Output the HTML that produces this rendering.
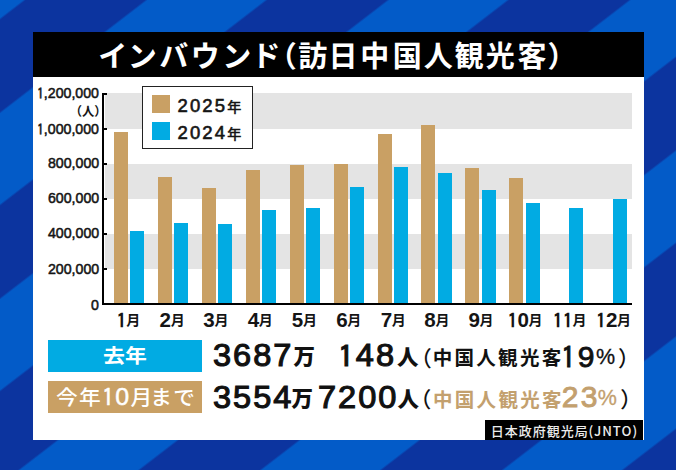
<!DOCTYPE html>
<html lang="ja"><head><meta charset="utf-8"><title>インバウンド（訪日中国人観光客）</title>
<style>
*{margin:0;padding:0;box-sizing:border-box}
html,body{width:676px;height:470px;overflow:hidden}
body{position:relative;background:#0c349f;
background-image:repeating-linear-gradient(142.43deg,#035bc8 0px,#035bc8 14.0px,#0c349f 16.0px,#0c349f 88.3px,#035bc8 90.3px,#035bc8 147.4px);
font-family:"Liberation Sans","Noto Sans CJK JP",sans-serif}
.a{position:absolute}
#panel{left:33px;top:32px;width:611px;height:408px;background:#fff}
#head{left:33px;top:32px;width:611px;height:45px;background:#000}
.band{position:absolute;left:105px;width:527px;background:#e4e4e4}
.b{position:absolute;width:14.0px}
.t{background:#c9a064}
.c{background:#01abe3}
#yaxis{left:102px;top:92.50px;width:2px;height:212.50px;background:#000}
#xaxis{left:102px;top:303.00px;width:530px;height:2px;background:#000}
.tick{position:absolute;left:104px;width:3px;height:2px;background:#000}
#legend{left:141.5px;top:85.5px;width:111px;height:63px;background:#fff;border:1.5px solid #222}
.sw{position:absolute;width:18px;height:18px}
.box{position:absolute;left:48px;width:154px}
#src{left:485px;top:420px;width:158px;height:20px;background:#000}
.s{position:absolute;line-height:40px;white-space:pre}
.md{margin-left:-3px}
.tn{font-family:"Liberation Sans",sans-serif;font-size:23.5px;-webkit-text-stroke:0.5px;letter-spacing:1.2px}
.one{font-family:IPAGothic,sans-serif;font-size:0.97em;vertical-align:-0.05em}
.mo{font-family:"Noto Sans CJK JP",sans-serif;font-size:14px;margin-left:-0.4px;position:relative;top:-1.6px}
.ne{font-family:"Noto Sans CJK JP",sans-serif;font-size:14px;letter-spacing:0;}
.k0{color:#fff;font-family:"Noto Sans CJK JP",sans-serif;font-size:29px;font-weight:700}
.k1{-webkit-text-stroke:0.55px #151515;color:#151515;font-family:"Liberation Sans",sans-serif;font-size:15.4px;font-weight:400;transform:scaleX(0.92);transform-origin:left}
.k2{color:#151515;font-family:"Noto Sans CJK JP",sans-serif;font-size:12.3px;font-weight:700}
.k3{color:#151515;font-family:"Liberation Sans","Noto Sans CJK JP",sans-serif;font-size:20.6px;font-weight:700}
.k4{-webkit-text-stroke:0.6px #151515;color:#151515;font-family:"Liberation Sans","Noto Sans CJK JP",sans-serif;font-size:18.5px;font-weight:400;letter-spacing:2.1px}
.k5{color:#fff;font-family:"Noto Sans CJK JP",sans-serif;font-size:19.5px;font-weight:700;letter-spacing:0.2px;transform:scaleX(1.12);transform-origin:left}
.k6{color:#fff;font-family:"Noto Sans CJK JP",sans-serif;font-size:20.5px;font-weight:500;letter-spacing:1.2px;transform:scaleX(1.06);transform-origin:left}
.k7{-webkit-text-stroke:1.1px #111;color:#111;font-family:"Liberation Sans",sans-serif;font-size:31px;font-weight:400;letter-spacing:1.9px;transform:scaleX(1.05);transform-origin:left}
.k8{color:#111;font-family:"Noto Sans CJK JP",sans-serif;font-size:21.5px;font-weight:900}
.k9{color:#111;font-family:"Noto Sans CJK JP",sans-serif;font-size:21.5px;font-weight:500}
.k10{color:#111;font-family:"Noto Sans CJK JP",sans-serif;font-size:19.5px;font-weight:700;letter-spacing:2.3px}
.k11{-webkit-text-stroke:0.9px;color:#111;font-family:"Liberation Sans",sans-serif;font-size:30px;font-weight:400;letter-spacing:2.4px}
.k12{-webkit-text-stroke:0.3px;color:#111;font-family:"Liberation Sans",sans-serif;font-size:21.5px;font-weight:400}
.k13{color:#c3a06e;font-family:"Noto Sans CJK JP",sans-serif;font-size:19.5px;font-weight:700;letter-spacing:2.3px}
.k14{-webkit-text-stroke:0.9px;color:#c3a06e;font-family:"Liberation Sans",sans-serif;font-size:30px;font-weight:400;letter-spacing:2.4px}
.k15{-webkit-text-stroke:0.3px;color:#c3a06e;font-family:"Liberation Sans",sans-serif;font-size:21.5px;font-weight:400}
.k16{color:#ececec;font-family:"Noto Sans CJK JP",sans-serif;font-size:13px;font-weight:500;letter-spacing:1px}
.k17{color:#ececec;font-family:"Noto Sans CJK JP",sans-serif;font-size:13.2px;font-weight:500;letter-spacing:1px}
</style></head><body>
<div class="a" id="panel"></div>
<div class="a" id="head"></div>
<div class="band" style="top:93.00px;height:35.58px"></div><div class="band" style="top:163.67px;height:35.08px"></div><div class="band" style="top:233.83px;height:35.08px"></div>
<div class="b t" style="left:114.10px;top:132.02px;height:171.98px"></div>
<div class="b t" style="left:158.00px;top:177.24px;height:126.76px"></div>
<div class="b t" style="left:201.90px;top:187.93px;height:116.07px"></div>
<div class="b t" style="left:245.80px;top:169.79px;height:134.21px"></div>
<div class="b t" style="left:289.70px;top:165.44px;height:138.56px"></div>
<div class="b t" style="left:333.60px;top:164.04px;height:139.96px"></div>
<div class="b t" style="left:377.50px;top:134.42px;height:169.58px"></div>
<div class="b t" style="left:421.40px;top:125.32px;height:178.68px"></div>
<div class="b t" style="left:465.30px;top:167.98px;height:136.02px"></div>
<div class="b t" style="left:509.20px;top:178.45px;height:125.55px"></div>
<div class="b c" style="left:130.40px;top:231.04px;height:72.96px"></div>
<div class="b c" style="left:174.30px;top:223.41px;height:80.59px"></div>
<div class="b c" style="left:218.20px;top:224.48px;height:79.52px"></div>
<div class="b c" style="left:262.10px;top:210.40px;height:93.60px"></div>
<div class="b c" style="left:306.00px;top:208.33px;height:95.67px"></div>
<div class="b c" style="left:349.90px;top:187.21px;height:116.79px"></div>
<div class="b c" style="left:393.80px;top:167.10px;height:136.90px"></div>
<div class="b c" style="left:437.70px;top:172.91px;height:131.09px"></div>
<div class="b c" style="left:481.60px;top:189.56px;height:114.44px"></div>
<div class="b c" style="left:525.50px;top:202.68px;height:101.32px"></div>
<div class="b c" style="left:569.40px;top:208.19px;height:95.81px"></div>
<div class="b c" style="left:613.30px;top:198.57px;height:105.43px"></div>
<div class="a" id="yaxis"></div>
<div class="a" id="xaxis"></div>
<div class="tick" style="top:92.50px"></div><div class="tick" style="top:127.58px"></div><div class="tick" style="top:162.67px"></div><div class="tick" style="top:197.75px"></div><div class="tick" style="top:232.83px"></div><div class="tick" style="top:267.92px"></div>
<div class="a" id="legend"></div>
<div class="sw t" style="left:152px;top:95px"></div>
<div class="sw c" style="left:152px;top:121.5px"></div>
<div class="box c" style="top:340px;height:32px"></div>
<div class="box t" style="top:381px;height:32px"></div>
<div class="a" id="src"></div>
<span class="s k0" style="left:98.35px;top:33.80px">イ</span>
<span class="s k0" style="left:127.85px;top:33.80px">ン</span>
<span class="s k0" style="left:159.15px;top:33.80px">バ</span>
<span class="s k0" style="left:190.85px;top:33.80px">ウ</span>
<span class="s k0" style="left:222.25px;top:33.80px">ン</span>
<span class="s k0" style="left:251.45px;top:33.80px">ド</span>
<span class="s k0" style="left:267.80px;top:33.80px">（</span>
<span class="s k0" style="left:298.30px;top:33.80px">訪</span>
<span class="s k0" style="left:328.60px;top:33.80px">日</span>
<span class="s k0" style="left:360.30px;top:33.80px">中</span>
<span class="s k0" style="left:392.65px;top:33.80px">国</span>
<span class="s k0" style="left:423.80px;top:33.80px">人</span>
<span class="s k0" style="left:454.55px;top:33.80px">観</span>
<span class="s k0" style="left:485.80px;top:33.80px">光</span>
<span class="s k0" style="left:517.40px;top:33.80px">客</span>
<span class="s k0" style="left:547.55px;top:33.80px">）</span>
<span class="s k1" style="left:37.30px;top:72.70px"><span class="one">1</span>,200,000</span>
<span class="s k1" style="left:37.30px;top:108.70px"><span class="one">1</span>,000,000</span>
<span class="s k1" style="left:48.30px;top:143.30px">800,000</span>
<span class="s k1" style="left:48.30px;top:178.40px">600,000</span>
<span class="s k1" style="left:48.30px;top:213.40px">400,000</span>
<span class="s k1" style="left:48.30px;top:248.50px">200,000</span>
<span class="s k1" style="left:91.30px;top:284.60px">0</span>
<span class="s k2" style="left:69.70px;top:90.80px">（人）</span>
<span class="s k3" style="left:116.55px;top:300.00px"><span class="one">1</span><span class="mo">月</span></span>
<span class="s k3" style="left:159.55px;top:300.00px">2<span class="mo">月</span></span>
<span class="s k3" style="left:203.30px;top:300.00px">3<span class="mo">月</span></span>
<span class="s k3" style="left:247.70px;top:300.00px">4<span class="mo">月</span></span>
<span class="s k3" style="left:291.80px;top:300.00px">5<span class="mo">月</span></span>
<span class="s k3" style="left:336.15px;top:300.00px">6<span class="mo">月</span></span>
<span class="s k3" style="left:380.75px;top:300.00px">7<span class="mo">月</span></span>
<span class="s k3" style="left:424.35px;top:300.00px">8<span class="mo">月</span></span>
<span class="s k3" style="left:468.50px;top:300.00px">9<span class="mo">月</span></span>
<span class="s k3" style="left:507.45px;top:300.00px"><span class="one">1</span>0<span class="mo">月</span></span>
<span class="s k3" style="left:552.80px;top:300.00px"><span class="one">1</span><span class="one">1</span><span class="mo">月</span></span>
<span class="s k3" style="left:595.95px;top:300.00px"><span class="one">1</span>2<span class="mo">月</span></span>
<span class="s k4" style="left:177.60px;top:85.80px">2025<span class="ne">年</span></span>
<span class="s k4" style="left:177.60px;top:112.50px">2024<span class="ne">年</span></span>
<span class="s k5" style="left:103.20px;top:335.10px">去年</span>
<span class="s k6" style="left:56.00px;top:376.00px">今年<span class="tn"><span class="one">1</span>0</span>月<span class="md">まで</span></span>
<span class="s k7" style="left:213.00px;top:336.20px">3687</span>
<span class="s k8" style="left:293.60px;top:334.80px">万</span>
<span class="s k7" style="left:337.70px;top:336.20px"><span class="one">1</span>48</span>
<span class="s k8" style="left:396.90px;top:336.30px">人</span>
<span class="s k9" style="left:410.20px;top:337.20px">（</span>
<span class="s k10" style="left:432.70px;top:337.40px">中国人観光客</span>
<span class="s k11" style="left:560.90px;top:336.90px"><span class="one">1</span>9</span>
<span class="s k12" style="left:596.00px;top:337.00px">%</span>
<span class="s k9" style="left:617.90px;top:336.90px">）</span>
<span class="s k7" style="left:213.40px;top:377.50px">3554</span>
<span class="s k8" style="left:291.50px;top:376.80px">万</span>
<span class="s k7" style="left:318.40px;top:377.50px">7200</span>
<span class="s k8" style="left:397.40px;top:377.80px">人</span>
<span class="s k9" style="left:409.80px;top:378.40px">（</span>
<span class="s k13" style="left:433.00px;top:378.80px">中国人観光客</span>
<span class="s k14" style="left:561.70px;top:377.30px">23</span>
<span class="s k15" style="left:597.80px;top:378.40px">%</span>
<span class="s k9" style="left:620.30px;top:378.20px">）</span>
<span class="s k16" style="left:490.70px;top:411.10px">日本政府観光局</span>
<span class="s k17" style="left:588.50px;top:410.60px">(JNTO)</span>
</body></html>
